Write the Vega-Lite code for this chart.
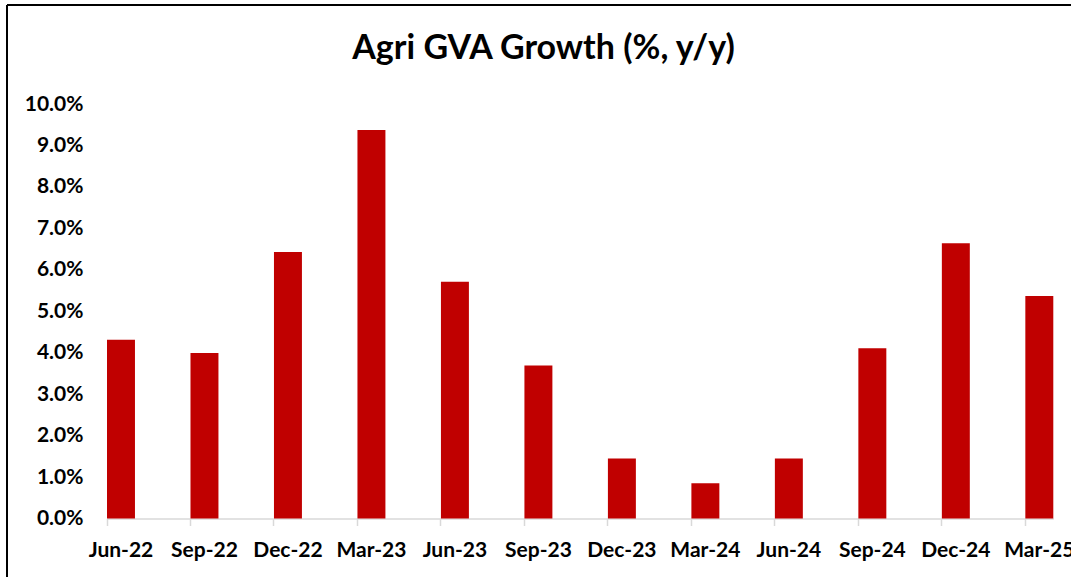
{
  "$schema": "https://vega.github.io/schema/vega-lite/v6.json",
  "autosize": "none",
  "padding": {"left": 7, "top": 5, "right": 0, "bottom": 0},
  "width": 1064,
  "height": 572,
  "background": "white",
  "title": {
    "text": "Agri GVA Growth (%, y/y)",
    "font": "Lato",
    "fontSize": 34,
    "fontWeight": "bold",
    "color": "#000000",
    "anchor": "middle",
    "frame": "group",
    "baseline": "alphabetic",
    "offset": 0,
    "dx": 4.5,
    "dy": 88
  },
  "data": {
    "values": [
      {"quarter": "Jun-22", "growth": 0.0431},
      {"quarter": "Sep-22", "growth": 0.0399},
      {"quarter": "Dec-22", "growth": 0.0643},
      {"quarter": "Mar-23", "growth": 0.0937},
      {"quarter": "Jun-23", "growth": 0.0571},
      {"quarter": "Sep-23", "growth": 0.0369},
      {"quarter": "Dec-23", "growth": 0.0145},
      {"quarter": "Mar-24", "growth": 0.0085},
      {"quarter": "Jun-24", "growth": 0.0145},
      {"quarter": "Sep-24", "growth": 0.0411},
      {"quarter": "Dec-24", "growth": 0.0664},
      {"quarter": "Mar-25", "growth": 0.0537}
    ]
  },
  "mark": {"type": "bar", "color": "#C00000"},
  "encoding": {
    "x": {
      "field": "quarter",
      "type": "nominal",
      "sort": null,
      "scale": {"type": "band", "range": [100, 1046.3], "paddingInner": 0.665, "paddingOuter": 0},
      "axis": {
        "title": null,
        "orient": "bottom",
        "offset": -58.5,
        "domainColor": "#D9D9D9",
        "domainWidth": 1.5,
        "ticks": true,
        "tickColor": "#D9D9D9",
        "tickWidth": 1.5,
        "tickSize": 7,
        "bandPosition": 0,
        "labelOffset": 0,
        "labelBaseline": "alphabetic",
        "labelPadding": 31,
        "labelAngle": 0,
        "labelOverlap": false,
        "labelBound": false,
        "labelFlush": false,
        "grid": false
      }
    },
    "y": {
      "field": "growth",
      "type": "quantitative",
      "scale": {"domain": [0, 0.1], "range": [513.5, 99], "nice": false, "zero": true},
      "axis": {
        "title": null,
        "orient": "left",
        "offset": -76,
        "format": ".1%",
        "values": [0, 0.01, 0.02, 0.03, 0.04, 0.05, 0.06, 0.07, 0.08, 0.09, 0.1],
        "domain": false,
        "ticks": false,
        "tickSize": 0,
        "labelPadding": 0,
        "grid": false,
        "labelAlign": "right",
        "labelBaseline": "middle"
      }
    }
  },
  "config": {
    "view": {"stroke": "#000000", "strokeWidth": 2, "strokeDash": [1064, 1636, 572, 0]},
    "axis": {
      "labelFont": "Lato",
      "labelFontSize": 21,
      "labelFontWeight": "bold",
      "labelColor": "#000000"
    }
  }
}
